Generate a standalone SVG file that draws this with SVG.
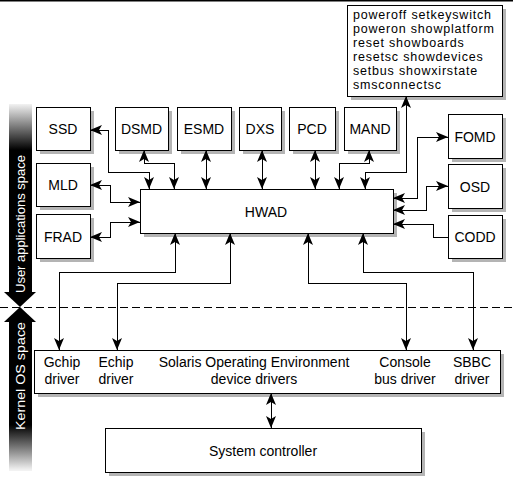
<svg xmlns="http://www.w3.org/2000/svg" width="513" height="482" viewBox="0 0 513 482">
<defs>
<style>
.box{fill:#fff;stroke:#000;stroke-width:1;shape-rendering:crispEdges}
.sh{fill:#b4b4b4;shape-rendering:crispEdges}
.t{font-family:"Liberation Sans",Arial,sans-serif;font-size:14px;fill:#000}
.cmd{font-size:12.5px;letter-spacing:0.8px}
.c{text-anchor:middle}
.w{fill:#fff;font-size:13px}
.ln{fill:none;stroke:#000;stroke-width:1;shape-rendering:crispEdges}
.bi{marker-start:url(#ah);marker-end:url(#ah)}
</style>
<marker id="ah" markerUnits="userSpaceOnUse" markerWidth="13" markerHeight="11" refX="12" refY="5" orient="auto-start-reverse" viewBox="0 0 13 10">
<path d="M12,5 L0,0 L3,5 L0,10 Z" fill="#000"/>
</marker>
<linearGradient id="gt" gradientUnits="userSpaceOnUse" x1="0" y1="104" x2="0" y2="150">
<stop offset="0" stop-color="#f2f2f2"/>
<stop offset="1" stop-color="#000"/>
</linearGradient>
<linearGradient id="gb" gradientUnits="userSpaceOnUse" x1="0" y1="425" x2="0" y2="470">
<stop offset="0" stop-color="#000"/>
<stop offset="1" stop-color="#f2f2f2"/>
</linearGradient>
</defs>
<rect x="0" y="0" width="513" height="482" fill="#fff"/>
<rect x="0" y="0" width="513" height="1.5" fill="#000"/>

<g id="space-bar">
<rect x="9" y="104" width="23" height="189" fill="url(#gt)"/>
<polygon points="4,292 36,292 20,307" fill="#000"/>
<polygon points="20,307 36,322 4,322" fill="#000"/>
<rect x="9" y="321" width="23" height="150" fill="url(#gb)"/>
<text class="t c w" transform="translate(25,224) rotate(-90)" textLength="138" lengthAdjust="spacingAndGlyphs">User applications space</text>
<text class="t c w" transform="translate(25,376) rotate(-90)" textLength="108" lengthAdjust="spacingAndGlyphs">Kernel OS space</text>
</g>
<line x1="0" y1="307.5" x2="513" y2="307.5" stroke="#000" stroke-width="1" stroke-dasharray="8,4" shape-rendering="crispEdges"/>

<g id="ssd"><rect class="sh" x="40" y="111" width="54" height="43"/><rect class="box" x="36" y="107" width="54" height="43"/><text class="t c" x="63" y="134">SSD</text></g>
<g id="dsmd"><rect class="sh" x="119" y="111" width="53" height="43"/><rect class="box" x="115" y="107" width="53" height="43"/><text class="t c" x="141.5" y="134">DSMD</text></g>
<g id="esmd"><rect class="sh" x="181" y="111" width="54" height="43"/><rect class="box" x="177" y="107" width="54" height="43"/><text class="t c" x="204" y="134">ESMD</text></g>
<g id="dxs"><rect class="sh" x="243" y="111" width="42" height="43"/><rect class="box" x="239" y="107" width="42" height="43"/><text class="t c" x="260" y="134">DXS</text></g>
<g id="pcd"><rect class="sh" x="293" y="111" width="46" height="43"/><rect class="box" x="289" y="107" width="46" height="43"/><text class="t c" x="312" y="134">PCD</text></g>
<g id="mand"><rect class="sh" x="348" y="111" width="52" height="43"/><rect class="box" x="344" y="107" width="52" height="43"/><text class="t c" x="370" y="134">MAND</text></g>
<g id="commands"><rect class="sh" x="351" y="9" width="155" height="91"/><rect class="box" x="347" y="5" width="155" height="91"/>
<text class="t cmd" x="353" y="19">poweroff setkeyswitch</text>
<text class="t cmd" x="353" y="33">poweron showplatform</text>
<text class="t cmd" x="353" y="47">reset showboards</text>
<text class="t cmd" x="353" y="61">resetsc showdevices</text>
<text class="t cmd" x="353" y="75">setbus showxirstate</text>
<text class="t cmd" x="353" y="89">smsconnectsc</text></g>
<g id="fomd"><rect class="sh" x="452" y="118" width="54" height="44"/><rect class="box" x="448" y="114" width="54" height="44"/><text class="t c" x="475" y="141.5">FOMD</text></g>
<g id="osd"><rect class="sh" x="452" y="168" width="54" height="44"/><rect class="box" x="448" y="164" width="54" height="44"/><text class="t c" x="475" y="191.5">OSD</text></g>
<g id="codd"><rect class="sh" x="452" y="219" width="54" height="43"/><rect class="box" x="448" y="215" width="54" height="43"/><text class="t c" x="475" y="242">CODD</text></g>
<g id="mld"><rect class="sh" x="40" y="167" width="54" height="43"/><rect class="box" x="36" y="163" width="54" height="43"/><text class="t c" x="63" y="189.5">MLD</text></g>
<g id="frad"><rect class="sh" x="40" y="218" width="54" height="44"/><rect class="box" x="36" y="214" width="54" height="44"/><text class="t c" x="63" y="241.5">FRAD</text></g>
<g id="hwad"><rect class="sh" x="144" y="193" width="253" height="44"/><rect class="box" x="140" y="189" width="253" height="44"/><text class="t c" x="266" y="217">HWAD</text></g>
<g id="drivers"><rect class="sh" x="38" y="354" width="466" height="43"/><rect class="box" x="34" y="350" width="466" height="43"/>
<text class="t c" x="62" y="367">Gchip</text><text class="t c" x="62" y="384">driver</text>
<text class="t c" x="116" y="367">Echip</text><text class="t c" x="116" y="384">driver</text>
<text class="t c" x="254" y="367">Solaris Operating Environment</text><text class="t c" x="254" y="384">device drivers</text>
<text class="t c" x="405" y="367">Console</text><text class="t c" x="405" y="384">bus driver</text>
<text class="t c" x="472" y="367">SBBC</text><text class="t c" x="472" y="384">driver</text></g>
<g id="syscontroller"><rect class="sh" x="109" y="432" width="316" height="44"/><rect class="box" x="105" y="428" width="316" height="44"/><text class="t c" x="263" y="455.5">System controller</text></g>

<g id="connectors">
<path class="ln bi" d="M90,130 H108 V172 H149 V189"/>
<path class="ln bi" d="M144,150 V163 H174 V189"/>
<path class="ln bi" d="M206,150 V189"/>
<path class="ln bi" d="M262,150 V189"/>
<path class="ln bi" d="M315,150 V189"/>
<path class="ln bi" d="M369,150 V163 H339 V189"/>
<path class="ln bi" d="M406,96 V172 H365 V189"/>
<path class="ln bi" d="M393,198 H417 V137 H448"/>
<path class="ln bi" d="M393,210 H426 V186 H448"/>
<path class="ln" marker-start="url(#ah)" d="M393,224 H433 V237 H448"/>
<path class="ln bi" d="M90,185 H110 V202 H140"/>
<path class="ln bi" d="M90,237 H110 V222 H140"/>
<path class="ln bi" d="M175,233 V272 H59 V350"/>
<path class="ln bi" d="M230,233 V283 H117 V350"/>
<path class="ln bi" d="M308,233 V283 H406 V350"/>
<path class="ln bi" d="M363,233 V272 H473 V350"/>
<path class="ln bi" d="M271,393 V428"/>
</g>
</svg>
